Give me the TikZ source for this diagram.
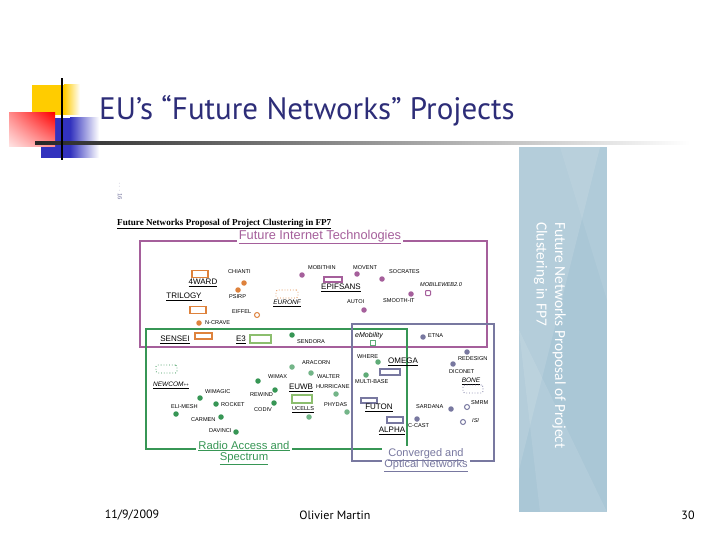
\documentclass[tikz,border=0pt]{standalone}
\usepackage{fontspec}
\setmainfont{Liberation Sans}
\newfontfamily\titlefont{PT Sans}
\newfontfamily\panelfont{Carlito}
\newfontfamily\docserif{Liberation Serif}
\usetikzlibrary{shapes.geometric,shadings}
\definecolor{cPur}{RGB}{165,95,155}
\definecolor{cOra}{RGB}{222,130,60}
\definecolor{cGrn}{RGB}{55,150,85}
\definecolor{cLgr}{RGB}{140,190,110}
\definecolor{cSla}{RGB}{120,120,160}
\definecolor{cPanel}{RGB}{170,199,214}
\definecolor{cNavy}{RGB}{45,45,120}
\definecolor{cYel}{RGB}{255,204,0}
\definecolor{cBlu}{RGB}{50,50,190}
\tikzset{
 lbl/.style={font=\fontsize{5.6}{6}\selectfont, inner sep=0pt, anchor=west, text=black},
 nm/.style={font=\fontsize{8}{9}\selectfont, inner sep=0pt, text=black},
 dotn/.style={circle, fill=#1, inner sep=0pt, minimum size=5.5pt},
 ringn/.style={circle, draw=#1, line width=1pt, inner sep=0pt, minimum size=5pt},
 rbox/.style={draw=#1, line width=1.4pt, inner sep=0pt, rectangle},
 dbox/.style={draw=#1, dotted, line width=0.8pt, rounded corners=1.5pt, inner sep=0pt},
 cluster/.style={line width=1.6pt},
 clab/.style={fill=white, inner sep=2pt, font=\fontsize{11}{12.5}\selectfont, align=center}
}
\begin{document}
\begin{tikzpicture}[x=1pt,y=-1pt]
\useasboundingbox (0,0) rectangle (720,540);
\fill[white] (0,0) rectangle (720,540);
% title decoration
\fill[cBlu] (41,118) rectangle (70,158);
\shade[left color=cBlu, right color=white] (70,118) rectangle (99,158);
\fill[cYel] (32,85) rectangle (64,115);
\shade[left color=cYel, right color=white] (64,85) rectangle (80,115);
\shade[upper left=red!45, upper right=red, lower left=red!10, lower right=red!45] (9,113) rectangle (55,147);
\shade[left color=black!85, right color=white] (35,141.5) rectangle (690,144.5);
\fill[black] (60.8,78) rectangle (63.2,160);
\node[font=\titlefont\fontsize{31}{34}\selectfont, text=cNavy, anchor=west, inner sep=0pt] (title) at (99,111) {EU’s “Future Networks” Projects};
% side panel
\fill[cPanel] (519,147) rectangle (607,512);
\fill[white, opacity=0.12] (519,147) -- (600,147) -- (519,470) -- cycle;
\fill[white, opacity=0.10] (519,330) -- (607,512) -- (540,512) -- cycle;
\fill[white, opacity=0.08] (560,147) -- (607,147) -- (607,300) -- cycle;
\node[rotate=-90, anchor=north west, align=left, text=white, inner sep=0pt, font=\panelfont\fontsize{15.4}{18.5}\selectfont] (panel) at (566,222) {Future Networks Proposal of Project\\Clustering in FP7};
% diagram header
\node[rotate=-90, font=\fontsize{6}{7}\selectfont, text=cSla, inner sep=0pt] (pg) at (120,191) {$\cdots$ 16};
\node[anchor=west, inner sep=0pt, font=\docserif\bfseries\fontsize{9.1}{10}\selectfont] (dtitle) at (117,224) {\underline{Future Networks Proposal of Project Clustering in FP7}};
% cluster boxes
\draw[cluster, cPur] (140,241) rectangle (487,347);
\draw[cluster, cGrn] (146,329) rectangle (407,449);
\draw[cluster, cSla] (352,324) rectangle (494,461);
\node[clab, text=cPur, font=\fontsize{12.8}{14}\selectfont, inner sep=1.5pt] (fit) at (320,237) {\underline{Future Internet Technologies}};
\node[clab, text=cGrn, font=\fontsize{11.3}{12.5}\selectfont] (ras) at (244,453) {\underline{Radio Access and}\\[-1pt]\underline{Spectrum}};
\node[clab, text=cSla] (con) at (426,460) {\underline{Converged and}\\[-1pt]\underline{Optical Networks}};
% ---- orange (FIT)
\node[rbox=cOra, minimum width=16pt, minimum height=7pt] (r4ward) at (200,274) {};
\node[nm] (n4ward) at (203,283) {\underline{4WARD}};
\node[nm] (ntrilogy) at (184,297) {\underline{TRILOGY}};
\node[rbox=cOra, minimum width=16pt, minimum height=7pt] (rtrilogy) at (198,310) {};
\node[dotn=cOra] (dchianti) at (244,283) {};
\node[dotn=cOra] (dpsirp) at (238,290) {};
\node[ringn=cOra] (deiffel) at (257,315) {};
\node[dotn=cOra] (dncrave) at (199,323) {};
\node[dbox=cOra, minimum width=22pt, minimum height=8pt] (reuronf) at (287,294) {};
\node[nm, font=\itshape\fontsize{6.5}{7}\selectfont] (neuronf) at (287,303) {\underline{EURONF}};
\node[lbl] (lchianti) at (228,272) {CHIANTI};
\node[lbl] (lpsirp) at (229,297) {PSIRP};
\node[lbl] (leiffel) at (232,312) {EIFFEL};
\node[lbl] (lncrave) at (205,323) {N-CRAVE};
% ---- purple (FIT)
\node[dotn=cPur] (dmobithin) at (302,275) {};
\node[lbl] (lmobithin) at (308,268) {MOBITHIN};
\node[rbox=cPur, minimum width=18pt, minimum height=5pt] (repif) at (333,279.5) {};
\node[nm] (nepif) at (341,288) {\underline{EPIFSANS}};
\node[lbl] (lmovent) at (353,268) {MOVENT};
\node[dotn=cPur] (dmovent) at (357,274) {};
\node[lbl] (lsocrates) at (389,272) {SOCRATES};
\node[dotn=cPur] (dsocrates) at (382,279) {};
\node[lbl, font=\itshape\fontsize{5.6}{6}\selectfont] (lmobweb) at (420,285) {MOBILEWEB2.0};
\node[draw=cPur, line width=1pt, inner sep=0pt, minimum size=5pt, rounded corners=0.8pt] (rmobweb) at (428,293) {};
\node[dotn=cPur] (dsmooth) at (411,294) {};
\node[lbl] (lsmooth) at (383,301) {SMOOTH-IT};
\node[lbl] (lautoi) at (347,302) {AUTOI};
\node[dotn=cPur] (dautoi) at (364,310) {};
% ---- green (RAS)
\node[nm] (nsensei) at (175,340) {\underline{SENSEI}};
\node[rbox=cOra, minimum width=17pt, minimum height=6pt] (rsensei) at (203.5,336) {};
\node[nm] (ne3) at (241,340) {\underline{E3}};
\node[rbox=cLgr, minimum width=21pt, minimum height=8pt] (re3) at (260.5,339) {};
\node[dotn=cGrn] (dsendora) at (292,335) {};
\node[lbl] (lsendora) at (297,342) {SENDORA};
\node[dbox=cGrn, minimum width=21pt, minimum height=8pt] (rnewcom) at (166.5,369) {};
\node[nm, font=\itshape\fontsize{6.5}{7}\selectfont] (nnewcom) at (171,385) {\underline{NEWCOM{\fontsize{4.5}{5}\selectfont ++}}};
\node[lbl] (lwimagic) at (205,392) {WIMAGIC};
\node[dotn=cGrn] (dwimagic) at (200,398) {};
\node[dotn=cGrn] (drocket) at (216,404) {};
\node[lbl] (lrocket) at (221,405) {ROCKET};
\node[lbl] (lelimesh) at (171,407) {ELI-MESH};
\node[dotn=cGrn] (delimesh) at (176,414) {};
\node[lbl] (lcarmen) at (191,420) {CARMEN};
\node[dotn=cGrn] (dcarmen) at (221,417) {};
\node[lbl] (ldavinci) at (209,431) {DAVINCI};
\node[dotn=cGrn] (ddavinci) at (236,432) {};
\node[dotn=cGrn] (dwimax) at (258,381) {};
\node[lbl] (lwimax) at (268,377) {WIMAX};
\node[lbl] (lrewind) at (250,395) {REWIND};
\node[dotn=cGrn] (drewind) at (275,390) {};
\node[lbl] (lcodiv) at (254,410) {CODIV};
\node[dotn=cGrn] (dcodiv) at (274,403) {};
\node[dotn=cGrn!70] (daracorn) at (292,367) {};
\node[lbl] (laracorn) at (302,363) {ARACORN};
\node[dotn=cGrn!70] (dwalter) at (311,373) {};
\node[lbl] (lwalter) at (317,377) {WALTER};
\node[nm] (neuwb) at (301,388) {\underline{EUWB}};
\node[rbox=cLgr, minimum width=20pt, minimum height=8pt] (reuwb) at (302,399) {};
\node[lbl] (lhurricane) at (316,387) {HURRICANE};
\node[dotn=cGrn!70] (dhurricane) at (336,394) {};
\node[lbl] (lphydas) at (324,405) {PHYDAS};
\node[dotn=cGrn!70] (dphydas) at (347,412) {};
\node[lbl] (lucells) at (292,410) {\underline{UCELLS}};
\node[dotn=cGrn!70] (ducells) at (309,417) {};
\node[lbl, font=\itshape\fontsize{7}{8}\selectfont] (lemob) at (355,336) {eMobility};
\node[draw=cGrn!80, line width=1pt, inner sep=0pt, minimum size=5pt] (remob) at (373,343) {};
\node[lbl] (lwhere) at (357,357) {WHERE};
\node[dotn=cGrn!80] (dwhere) at (378,362) {};
\node[dotn=cGrn!80] (dmulti) at (366,375) {};
\node[lbl] (lmulti) at (355,382) {MULTI-BASE};
% ---- slate (CON)
\node[dotn=cSla] (detna) at (423,337) {};
\node[lbl] (letna) at (428,336) {ETNA};
\node[nm] (nomega) at (403,362) {\underline{OMEGA}};
\node[rbox=cSla, minimum width=20pt, minimum height=6pt] (romega) at (390,372) {};
\node[rbox=cSla, minimum width=16pt, minimum height=5pt] (rfuton) at (369,400.5) {};
\node[nm] (nfuton) at (379,408) {\underline{FUTON}};
\node[rbox=cSla, minimum width=16pt, minimum height=6pt] (ralpha) at (395,420) {};
\node[nm] (nalpha) at (392,431) {\underline{ALPHA}};
\node[dotn=cSla] (dccast) at (417,419) {};
\node[lbl] (lccast) at (408,426) {C-CAST};
\node[lbl] (lsardana) at (416,407) {SARDANA};
\node[dotn=cSla] (dsardana) at (451,409) {};
\node[dotn=cSla] (dredesign) at (467,352) {};
\node[lbl] (lredesign) at (458,359) {REDESIGN};
\node[dotn=cSla] (ddiconet) at (453,364) {};
\node[lbl] (ldiconet) at (449,372) {DICONET};
\node[nm, font=\itshape\fontsize{6.5}{7}\selectfont] (nbone) at (471,381) {\underline{BONE}};
\node[dbox=cSla, minimum width=20pt, minimum height=8pt] (rbone) at (473,389) {};
\node[ringn=cSla] (dsmrm) at (467,407) {};
\node[lbl] (lsmrm) at (471,403) {SMRM};
\node[ringn=cSla] (disi) at (463,422) {};
\node[lbl, font=\itshape\fontsize{5.6}{6}\selectfont] (lisi) at (472,421) {ISI};
% footer
\node[font=\titlefont\fontsize{12}{14}\selectfont, inner sep=0pt] (fdate) at (132,515) {11/9/2009};
\node[font=\titlefont\fontsize{12}{14}\selectfont, inner sep=0pt] (fauth) at (335,515) {Olivier Martin};
\node[font=\titlefont\fontsize{12}{14}\selectfont, inner sep=0pt] (fpage) at (688,515) {30};
\end{tikzpicture}
\end{document}
